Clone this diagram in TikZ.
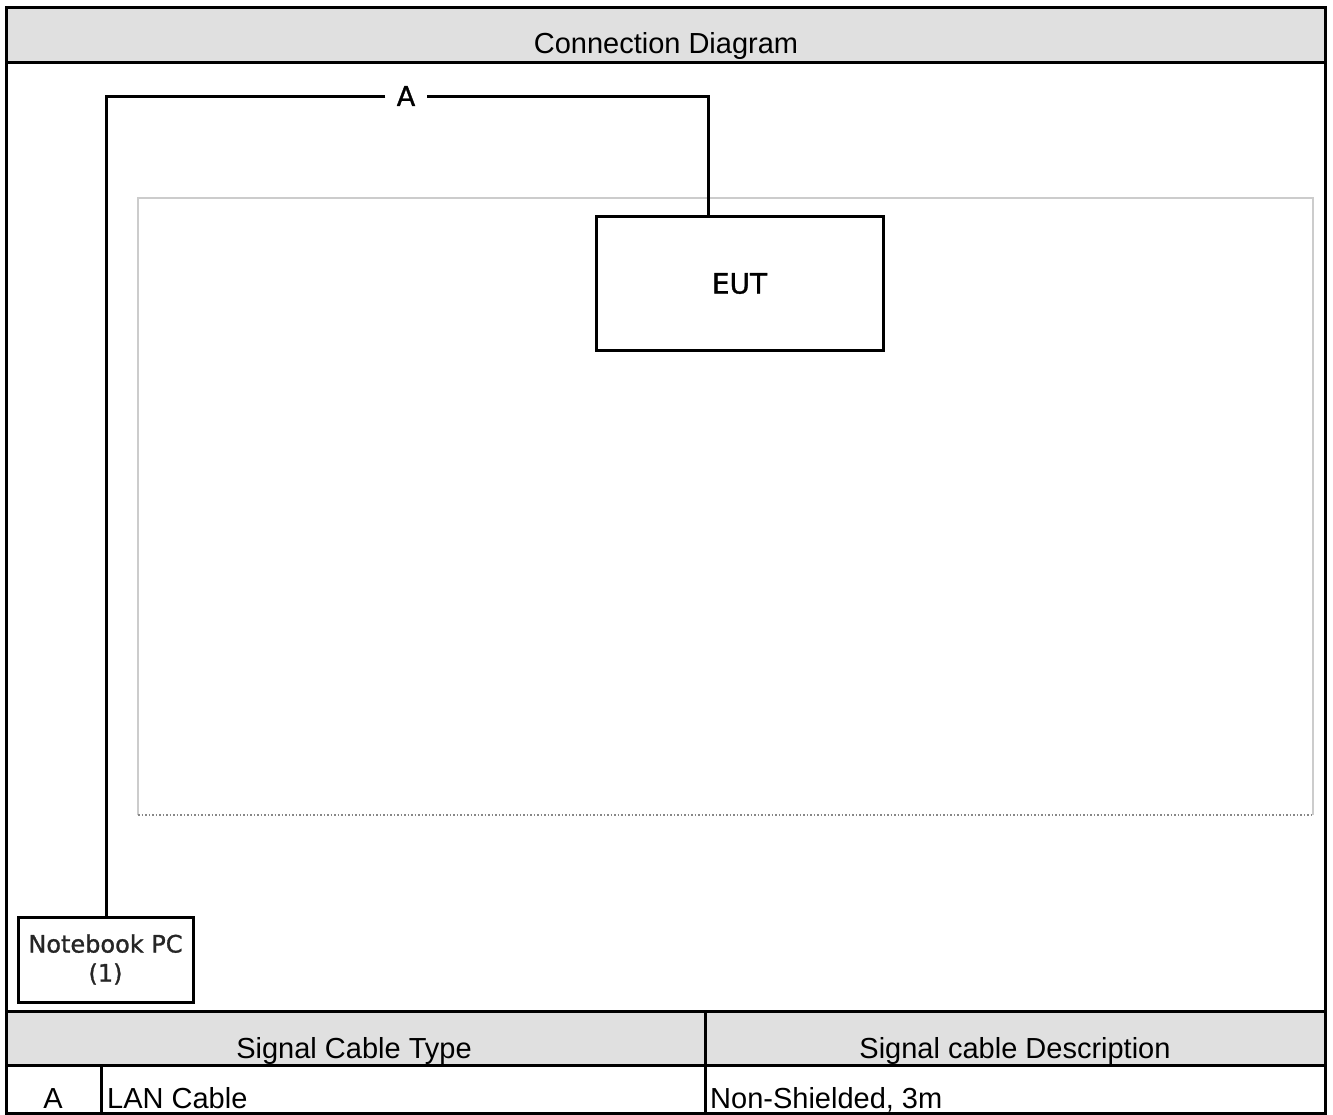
\documentclass[tikz,border=0pt]{standalone}
\usepackage{fontspec}
\setmainfont{Liberation Sans}
\newfontfamily\dvfont[FakeBold=1.2]{DejaVu Sans}
\definecolor{hdrgray}{HTML}{E0E0E0}
\definecolor{framegray}{HTML}{CCCCCC}
\definecolor{dotgray}{HTML}{888888}
\begin{document}
\begin{tikzpicture}[x=1pt,y=-1pt,
  tbl/.style={line width=3pt,black},
  cable/.style={line width=3pt,black},
  devbox/.style={draw=black,line width=3pt,rectangle,inner sep=0pt,align=center},
  tabtxt/.style={font=\fontsize{29}{34}\selectfont,anchor=base,inner sep=0pt},
  lbltxt/.style={font=\dvfont\fontsize{27}{30}\selectfont,inner sep=0pt}]
\useasboundingbox (0,0) rectangle (1333,1115);
% header fills
\fill[hdrgray] (6,8) rectangle (1325,63);
\fill[hdrgray] (6,1011) rectangle (1325,1065);
% table lines
\draw[tbl] (6,8) rectangle (1325,1113);
\draw[tbl] (6,63) -- (1325,63);
\draw[tbl] (6,1011) -- (1325,1011);
\draw[tbl] (6,1065) -- (1325,1065);
\draw[tbl] (705,1011) -- (705,1113);
\draw[tbl] (101,1065) -- (101,1113);
% texts of table
\node[tabtxt] (title) at (666,54) {Connection Diagram};
\node[tabtxt] (h1) at (354,1058) {Signal Cable Type};
\node[tabtxt] (h2) at (1015,1058) {Signal cable Description};
\node[tabtxt] (ra) at (53,1108) {A};
\node[tabtxt,anchor=base west] (rb) at (107,1108) {LAN Cable};
\node[tabtxt,anchor=base west] (rc) at (710,1108) {Non-Shielded, 3m};
% light frame
\draw[framegray,line width=1.5pt] (138,815) -- (138,198) -- (1313,198) -- (1313,815);
\draw[dotgray,line width=1.5pt,dotted] (138,815) -- (1313,815);
% devices
\node[devbox,minimum width=287pt,minimum height=133pt,font=\dvfont\fontsize{28}{30}\selectfont] (eut) at (739.5,283.5) {EUT};
\node[devbox,minimum width=175pt,minimum height=85pt,font=\dvfont\fontsize{24}{29}\selectfont,text=black!85] (pc) at (105.5,959.5) {Notebook PC\\(1)};
% cable
\node[lbltxt,minimum width=41pt,minimum height=24pt] (lblA) at (406,96) {A};
\coordinate (c1) at (708,97);
\coordinate (c2) at (106,97);
\draw[cable] (eut.north -| c1) -- (c1) -- (lblA.east |- c1);
\draw[cable] (lblA.west |- c2) -- (c2) -- (pc.north -| c2);
\end{tikzpicture}
\end{document}
